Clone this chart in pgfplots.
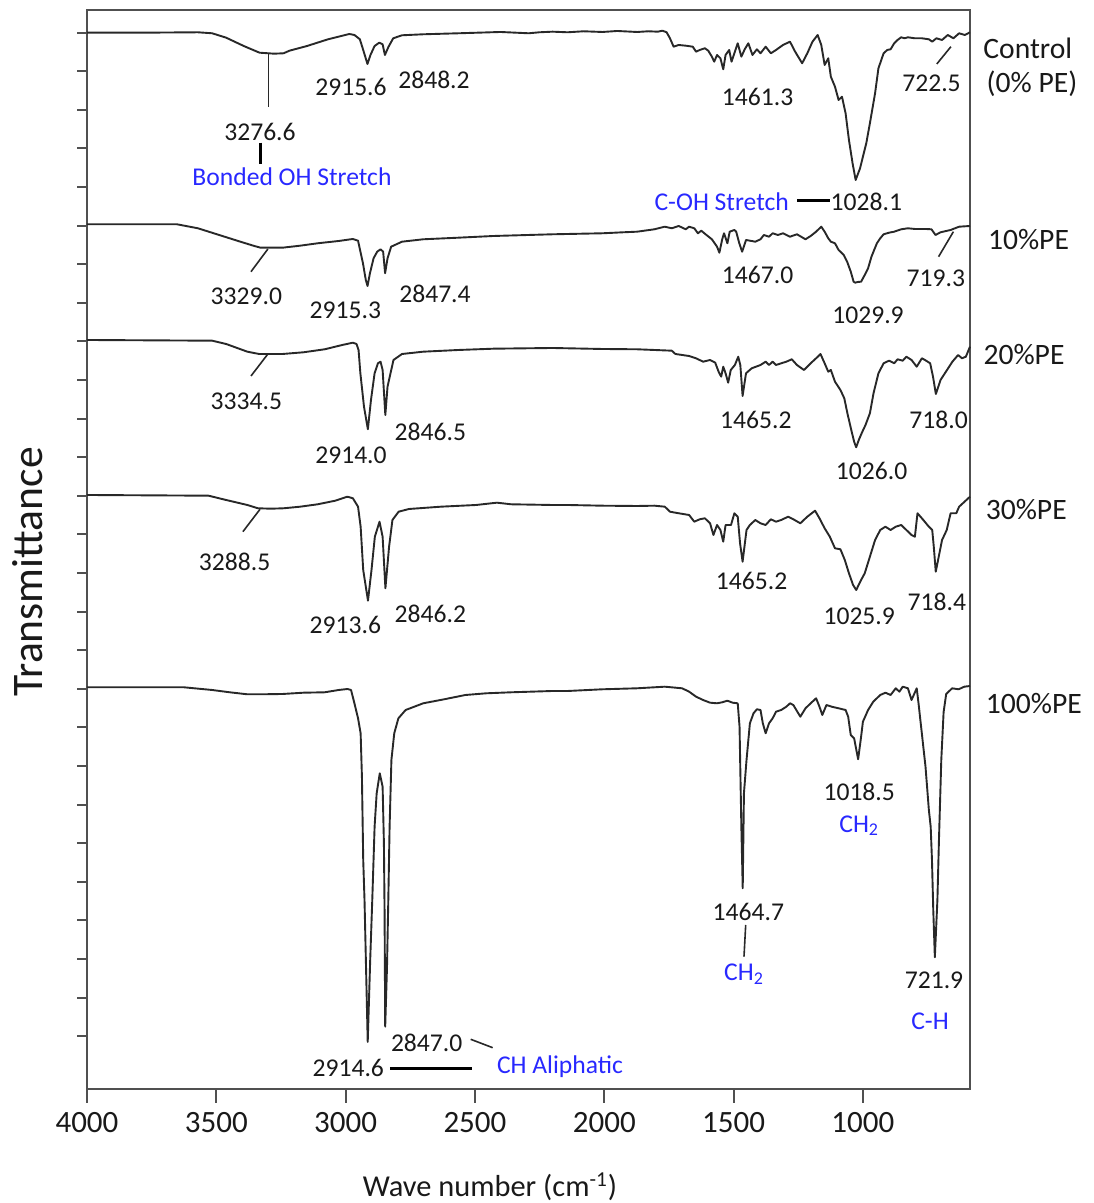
\documentclass[border=0pt]{standalone}
\usepackage{fontspec}
\setmainfont{Carlito}
\usepackage{pgfplots}
\pgfplotsset{compat=1.18}

\definecolor{trace}{RGB}{40,40,40}
\definecolor{frame}{RGB}{80,80,80}
\definecolor{txt}{RGB}{25,25,25}
\definecolor{annblue}{RGB}{40,40,255}

\newcommand\tickfont{\fontsize{15.5}{18}\selectfont}
\newcommand\annfont{\fontsize{12.8}{15}\selectfont}
\newcommand\serfont{\fontsize{14.8}{17}\selectfont}
\newcommand\ylabfont{\fontsize{21.8}{26}\selectfont}
\newcommand\xlabfont{\fontsize{15.2}{18}\selectfont}

\begin{document}
\begin{tikzpicture}
\begin{axis}[
  name=ax,
  scale only axis,
  width=441.5pt, height=539.5pt,
  x dir=reverse,
  xmin=586, xmax=4000,
  ymin=-1089, ymax=-10,
  clip=false,
  axis line style={frame, line width=1pt},
  every tick/.style={frame, line width=1pt},
  tick align=outside,
  tick pos=left,
  major tick length=4.75pt,
  xtick style={/pgfplots/major tick length=7pt},
  xtick={1000,1500,2000,2500,3000,3500,4000},
  xticklabels={1000,1500,2000,2500,3000,3500,4000},
  xticklabel style={font=\tickfont, text=txt, yshift=-3.5pt},
  ytick={-1036.3,-997.7,...,-32},
  yticklabels={},
  xlabel={Wave number (cm\textsuperscript{-1})},
  xlabel style={font=\xlabfont, text=txt, at={(axis description cs:0.4564,-0.0908)}, anchor=center},
  ylabel={Transmittance},
  ylabel style={font=\ylabfont, text=txt, at={(axis description cs:-0.0668,0.4791)}, anchor=center},
  every axis plot post/.style={trace, line width=0.95pt, line join=round, mark=none},
]

% Control (0% PE)
\addplot coordinates {
(4000,-32.7) (3788,-32.7) (3571,-32.3) (3516,-33.3) (3462,-37.7) (3394,-46) (3333,-52.7) (3276.6,-53.7) (3240,-53.3) (3217,-50.7) (3149,-46) (3068,-39.3) (2986,-34) (2966,-35) (2945,-39.3) (2932,-50) (2915.6,-64) (2904,-55) (2888,-46) (2870,-42.7) (2857,-44.3) (2848.2,-55) (2834,-46.7) (2816,-38.3) (2782,-35.3) (2700,-34.3) (2564,-33.3) (2401,-32) (2292,-33.3) (2251,-32.3) (2200,-31.7)
(2142,-32.3) (2080,-31.3) (2007,-32) (1950,-31) (1873,-32) (1830,-31.3) (1793,-31.7) (1775,-30.7) (1759,-32.3) (1746,-38.3) (1732,-46.7) (1712,-45) (1685,-45.7) (1658,-46.7) (1645,-51.7) (1631,-50) (1611,-48.3) (1598,-50.7) (1584,-56.7) (1575,-61.7) (1564,-55) (1551,-58.3) (1540,-69.3) (1531,-55) (1517,-50) (1508,-61.7) (1497,-53.3) (1484,-43.3) (1470,-56.7) (1457,-49.3) (1443,-43.3) (1427,-55) (1410,-49.3) (1396,-53.3) (1376,-46.7) (1356,-53.3) (1336,-50) (1309,-45) (1282,-41.7) (1262,-51.7) (1235,-63.3) (1215,-53.3) (1195,-41.7) (1175,-35) (1161,-45) (1148,-65) (1134,-58.3) (1124,-76.7) (1108,-86.7) (1094,-100) (1081,-96.7) (1067,-113.3) (1054,-140) (1040,-163.3) (1028.1,-180) (1011,-168.3) (1000,-156.7) (987,-143.3) (973,-123.3) (953,-93.3) (940,-68.3) (920,-53.3) (906,-50) (893,-49.3) (879,-43.3) (866,-40) (852,-37.3) (839,-38.3) (826,-37.3) (799,-38.3) (772,-38.3) (745,-39.3) (732,-41.7) (716,-38.3) (694,-40) (672,-35) (650,-38.3) (628,-33.3) (606,-35) (586,-32.3)
};

% 10% PE
\addplot coordinates {
(4000,-224.3) (3652,-224.3) (3571,-228.3) (3489,-235) (3407,-241.7) (3353,-246) (3329,-247.7) (3244,-247.7) (3176,-245.7) (3108,-243.3) (3027,-241) (2972,-239) (2952,-240.7) (2947,-246.7) (2933,-263.3) (2922,-280) (2915.3,-286) (2906,-273.3) (2892,-258.3) (2878,-251.7) (2865,-249.3) (2855,-251.7) (2847.4,-273.3) (2838,-258.3) (2824,-246.7) (2782,-241.7) (2700,-239.3) (2564,-237.7) (2428,-236) (2200,-234.3)
(2142,-234) (2007,-233.3) (1927,-232.3) (1873,-231.7) (1806,-229.3) (1766,-226.7) (1739,-228.3) (1712,-226) (1685,-229.3) (1672,-226.7) (1652,-228.3) (1638,-233.3) (1625,-230.7) (1605,-235) (1584,-239.3) (1564,-246.7) (1555,-252.7) (1544,-239.3) (1537,-233.3) (1524,-243.3) (1515,-231.7) (1497,-230) (1490,-231.7) (1478,-243.3) (1467,-251.7) (1452,-240) (1416,-241.7) (1396,-239.3) (1383,-235) (1363,-236.7) (1349,-233.3) (1329,-235) (1309,-233.3) (1282,-236.7) (1255,-234.3) (1222,-239.3) (1202,-236) (1181,-231.7) (1161,-226.7) (1148,-231.7) (1134,-238.3) (1124,-241.7) (1108,-243.3) (1094,-250) (1074,-255) (1061,-261.7) (1047,-271.7) (1036,-281.7) (1029.9,-282.7) (1020,-282) (1007,-281.7) (993,-275) (980,-268.3) (967,-256.7) (946,-243.3) (933,-238.3) (920,-234.3) (899,-232.7) (879,-231.7) (852,-229.3) (826,-228.3) (799,-229) (758,-229) (735,-229.3) (719.3,-235) (700,-232.3) (661,-230) (628,-226.7) (586,-226)
};

% 20% PE
\addplot coordinates {
(4000,-340) (3516,-340.7) (3462,-344) (3380,-351.7) (3334.5,-354) (3244,-354) (3163,-352.3) (3081,-349.3) (3013,-345) (2972,-342.7) (2958,-344) (2950,-350) (2943,-373.3) (2929,-406.7) (2914,-429.3) (2902,-400) (2888,-373.3) (2875,-363.3) (2865,-361.7) (2857,-370) (2846.5,-415) (2838,-386.7) (2815,-360) (2782,-354) (2700,-351.7) (2564,-350) (2428,-348.7) (2200,-348)
(2142,-348.3) (2007,-349) (1873,-349.3) (1806,-350) (1739,-350.7) (1725,-354) (1699,-355) (1672,-356) (1645,-358.3) (1618,-361.7) (1591,-360) (1571,-362.7) (1558,-371.7) (1548,-376.7) (1540,-366.7) (1531,-373.3) (1521,-382.7) (1511,-370) (1495,-365) (1482,-356.7) (1474,-365) (1465.2,-396) (1452,-373.3) (1430,-368.3) (1396,-365) (1376,-361.7) (1363,-365) (1349,-361.7) (1336,-365) (1316,-363.3) (1296,-361.7) (1275,-359.3) (1255,-365) (1228,-370) (1202,-363.3) (1181,-358.3) (1164,-354) (1148,-363.3) (1134,-371.7) (1124,-370) (1108,-381.7) (1087,-390) (1072,-398.3) (1060,-413.3) (1045,-430) (1034,-441.7) (1026,-447.3) (1016,-440) (1005,-433.3) (990,-425) (973,-413.3) (959,-393.3) (940,-373.3) (920,-363.3) (899,-360.7) (879,-363.3) (866,-359.3) (846,-360.7) (832,-356.7) (812,-360) (792,-366.7) (772,-358.3) (760,-360) (740,-363.3) (729,-376.7) (718,-394) (700,-380) (654,-361.7) (632,-355) (617,-358.3) (602,-356.7) (586,-346.7)
};

% 30% PE
\addplot coordinates {
(4000,-495) (3530,-495.7) (3462,-500) (3380,-505) (3339,-508.3) (3288.5,-508.7) (3240,-508.3) (3176,-506.7) (3108,-504.3) (3040,-500.7) (2993,-496.7) (2972,-498.3) (2952,-506.7) (2942,-526.7) (2932,-570) (2913.6,-600.7) (2900,-570) (2887,-536.7) (2869,-521.7) (2857,-536.7) (2846.2,-588.3) (2832,-546.7) (2819,-520) (2795,-511.7) (2755,-509) (2632,-506.7) (2496,-505) (2415,-502.7) (2360,-504.3) (2200,-505)
(2142,-505) (2007,-505.7) (1873,-506) (1806,-505.7) (1766,-506.7) (1746,-511.7) (1712,-513.3) (1672,-515) (1652,-521.7) (1631,-519.3) (1611,-518.3) (1591,-523.3) (1578,-535) (1564,-525) (1551,-530) (1540,-541.7) (1531,-525) (1510,-525) (1497,-513.3) (1484,-516.7) (1475,-543.3) (1465.2,-561.7) (1450,-530) (1437,-525) (1416,-520) (1396,-523.3) (1376,-525) (1356,-519.3) (1336,-521.7) (1316,-520) (1289,-516.7) (1269,-519.3) (1242,-523.3) (1215,-516.7) (1185,-510.7) (1168,-518.3) (1148,-528.3) (1128,-536.7) (1108,-548.3) (1087,-549.3) (1070,-560) (1054,-573.3) (1038,-585) (1025.9,-590) (1007,-580) (993,-573.3) (973,-556.7) (953,-540) (933,-530) (913,-526.7) (893,-530) (873,-526.7) (852,-525) (832,-530) (812,-535) (799,-536.7) (789,-513.3) (772,-518.3) (745,-526.7) (732,-530) (726,-546.7) (718.4,-571.7) (694,-540) (676,-530) (661,-513.3) (639,-513.3) (628,-506.7) (586,-496.7)
};

% 100% PE
\addplot coordinates {
(4000,-687.3) (3625,-687.3) (3516,-690) (3448,-692.3) (3380,-694.3) (3326,-694.3) (3244,-694) (3163,-692.7) (3081,-692.3) (3027,-690) (2993,-689) (2979,-690) (2966,-703.3) (2952,-718.3) (2942,-733.3) (2937,-776.7) (2932,-860) (2927,-900) (2920,-980) (2914.6,-1042) (2905,-960) (2897,-900) (2888,-826.7) (2880,-793.3) (2868,-773.3) (2857,-786.7) (2852,-843) (2849.5,-910) (2847,-1026.7) (2840,-966.7) (2835,-900) (2830,-826.7) (2823,-760) (2812,-733.3) (2796,-718.3) (2768,-710) (2700,-703.3) (2619,-699.3) (2537,-695) (2456,-693.3) (2360,-692.3) (2200,-691)
(2142,-691) (2007,-689.3) (1873,-688.3) (1766,-686.7) (1699,-688.3) (1672,-691.7) (1645,-696.7) (1618,-700) (1591,-702.7) (1564,-703.3) (1544,-702.3) (1524,-700.7) (1504,-702.7) (1484,-703.3) (1477,-726.7) (1470,-826.7) (1464.7,-888.3) (1460,-793.3) (1450,-760) (1437,-723.3) (1423,-713.3) (1410,-709.3) (1396,-710) (1387,-723.3) (1376,-733.3) (1363,-723.3) (1349,-718.3) (1336,-711.7) (1316,-710) (1296,-706.7) (1282,-703.3) (1269,-705) (1242,-716.7) (1222,-708.3) (1202,-703.3) (1181,-698.3) (1168,-706.7) (1157,-715) (1141,-705) (1121,-706.7) (1094,-708.3) (1067,-710) (1057,-716.7) (1047,-735) (1034,-738.3) (1018.5,-759.3) (1007,-736.7) (1000,-721.7) (980,-710) (960,-701.7) (933,-695) (913,-692.7) (893,-695) (873,-688.3) (859,-691.7) (846,-686.7) (826,-688.3) (812,-700) (792,-688.3) (785,-703.3) (758,-766.7) (745,-810) (738,-826.7) (733,-860) (728,-910) (721.9,-957.3) (712,-900) (706,-840) (697,-760) (688,-712) (678,-694) (655,-688.3) (630,-689.3) (608,-686.7) (586,-686)
};

% ---- peak labels and leaders ----
\begin{scope}[every node/.style={font=\annfont, text=txt, inner sep=0pt}]
% Control
\node at (axis cs:3331.1,-131.7) {3276.6};
\draw[trace, line width=0.8pt] (axis cs:3297.9,-53.3) -- (axis cs:3297.9,-106.7);
\draw[black, line width=1.5pt] (axis cs:3331,-142.7) -- (axis cs:3331,-164);
\node[text=annblue] at (axis cs:3207.4,-176.7) {Bonded OH Stretch};
\node at (axis cs:2979.3,-87.3) {2915.6};
\node at (axis cs:2658.4,-80) {2848.2};
\node at (axis cs:1407.2,-96.7) {1461.3};
\node at (axis cs:734.8,-83.3) {722.5};
\draw[trace, line width=0.8pt] (axis cs:714.3,-64) -- (axis cs:659.8,-46.7);
\node[text=annblue] at (axis cs:1546,-201.7) {C-OH Stretch};
\draw[black, line width=1.5pt] (axis cs:1253,-201) -- (axis cs:1127.3,-201);
\node at (axis cs:986.9,-201.7) {1028.1};
% 10% PE
\node at (axis cs:3383.7,-296.7) {3329.0};
\draw[trace, line width=0.8pt] (axis cs:3365.9,-271.7) -- (axis cs:3300.6,-249);
\node at (axis cs:3000.9,-310) {2915.3};
\node at (axis cs:2654.5,-294.3) {2847.4};
\node at (axis cs:1407.2,-275) {1467.0};
\node at (axis cs:980.3,-315) {1029.9};
\node at (axis cs:718.2,-278.3) {719.3};
\draw[trace, line width=0.8pt] (axis cs:707.4,-256.7) -- (axis cs:650.2,-231.7);
% 20% PE
\node at (axis cs:3383.7,-401.7) {3334.5};
\draw[trace, line width=0.8pt] (axis cs:3365.9,-376) -- (axis cs:3300.6,-354);
\node at (axis cs:2979.3,-455) {2914.0};
\node at (axis cs:2672.3,-432.3) {2846.5};
\node at (axis cs:1413.8,-420) {1465.2};
\node at (axis cs:966.5,-470.7) {1026.0};
\node at (axis cs:707.4,-420) {718.0};
% 30% PE
\node at (axis cs:3429.3,-562.3) {3288.5};
\draw[trace, line width=0.8pt] (axis cs:3397.2,-531.7) -- (axis cs:3331.1,-509.3);
\node at (axis cs:3000.9,-625) {2913.6};
\node at (axis cs:2672.3,-614) {2846.2};
\node at (axis cs:1430.4,-580.7) {1465.2};
\node at (axis cs:1014.3,-616) {1025.9};
\node at (axis cs:714.3,-602.3) {718.4};
% 100% PE
\node at (axis cs:1014.3,-791.7) {1018.5};
\node[text=annblue] at (axis cs:1014.3,-825.7) {CH\textsubscript{2}};
\node at (axis cs:1443.1,-911.7) {1464.7};
\draw[trace, line width=0.8pt] (axis cs:1453.2,-925) -- (axis cs:1459.8,-956.7);
\node[text=annblue] at (axis cs:1459.8,-974) {CH\textsubscript{2}};
\node at (axis cs:725.2,-980) {721.9};
\node[text=annblue] at (axis cs:740.6,-1021) {C-H};
\node at (axis cs:2686.6,-1042.7) {2847.0};
\draw[trace, line width=0.8pt] (axis cs:2516.4,-1039.3) -- (axis cs:2431.4,-1047.7);
\node at (axis cs:2989.7,-1068.3) {2914.6};
\draw[black, line width=1.5pt] (axis cs:2828.5,-1068.3) -- (axis cs:2512.6,-1068.3);
\node[text=annblue] at (axis cs:2171.2,-1067) {CH Aliphatic};
\end{scope}

% ---- sample names ----
\begin{scope}[every node/.style={font=\serfont, text=txt, inner sep=0pt}]
\node at (axis cs:362.5,-48.3) {Control};
\node at (axis cs:346.3,-83.3) {(0\% PE)};
\node at (axis cs:359.8,-239.3) {10\%PE};
\node at (axis cs:377.2,-355) {20\%PE};
\node at (axis cs:368.6,-510) {30\%PE};
\node at (axis cs:339.3,-703.3) {100\%PE};
\end{scope}
\end{axis}
\pgfresetboundingbox
\path (ax.south west) ++(-43.5pt,-57pt) rectangle ++(546.5pt,601.5pt);
\end{tikzpicture}
\end{document}
